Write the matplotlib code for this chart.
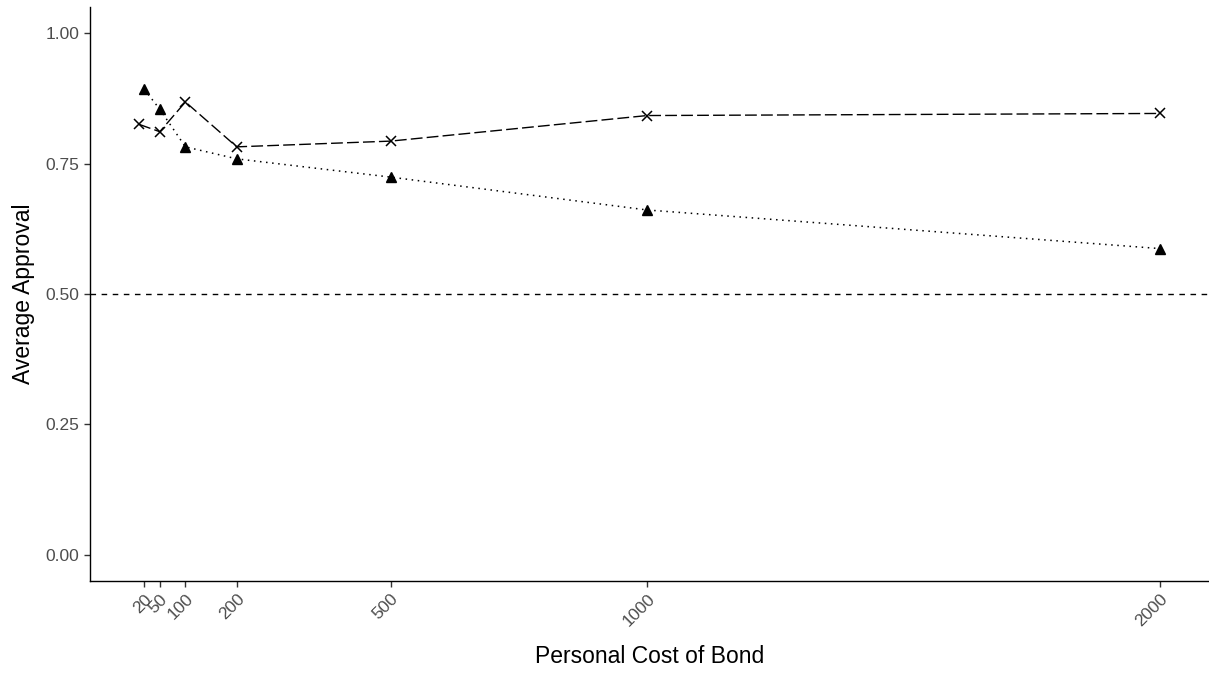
import matplotlib
matplotlib.use("Agg")
import matplotlib.pyplot as plt

plt.rcParams['font.family'] = ['Liberation Sans', 'DejaVu Sans']

# cost levels and average approval for the two groups
cost_x = [10, 50, 100, 200, 500, 1000, 2000]
approval_x = [0.825, 0.811, 0.868, 0.782, 0.793, 0.842, 0.846]

cost_tri = [20, 50, 100, 200, 500, 1000, 2000]
approval_tri = [0.892, 0.854, 0.782, 0.759, 0.724, 0.661, 0.587]

xticks = [20, 50, 100, 200, 500, 1000, 2000]
yticks = [0.00, 0.25, 0.50, 0.75, 1.00]
ref_line = 0.5

fig = plt.figure(figsize=(12.09, 6.75), dpi=100)
ax = fig.add_axes([90 / 1209, 94 / 675, 1 - 90 / 1209, (581 - 7) / 675])

ax.plot(cost_x, approval_x, color='black', linestyle=(0, (8.5, 3)), linewidth=1.0,
        marker='x', markersize=7, markeredgewidth=1.1)
ax.plot(cost_tri, approval_tri, color='black', linestyle=(0, (1, 3)), linewidth=1.1,
        marker='^', markersize=6.5)
ax.axhline(ref_line, color='black', linestyle=(0, (4, 4)), linewidth=1.0)

ax.set_xlim(-86, 2095)
ax.set_ylim(-0.05, 1.05)
ax.set_xticks(xticks)
ax.set_xticklabels([str(v) for v in xticks], rotation=45, ha='right', va='top',
                   rotation_mode='anchor')
ax.set_yticks(yticks)
ax.set_yticklabels(['%.2f' % v for v in yticks])
ax.tick_params(colors='#333333', labelcolor='#4D4D4D', labelsize=12.5, length=4, width=1)

for side in ['top', 'right']:
    ax.spines[side].set_visible(False)
for side in ['left', 'bottom']:
    ax.spines[side].set_linewidth(1.0)
    ax.spines[side].set_color('black')

ax.set_xlabel('Personal Cost of Bond', fontsize=16.5, labelpad=11)
ax.set_ylabel('Average Approval', fontsize=16.5, labelpad=8)

fig.savefig('out.png', dpi=100)
